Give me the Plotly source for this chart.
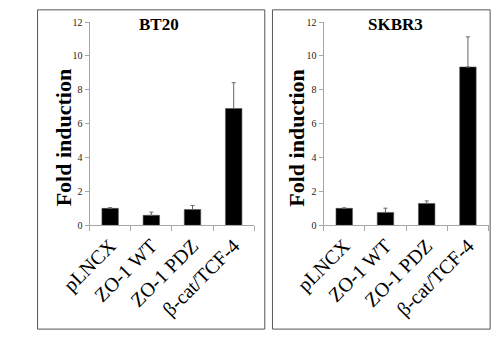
import plotly.graph_objects as go

categories = ["pLNCX", "ZO-1 WT", "ZO-1 PDZ", "β-cat/TCF-4"]
bt20_values = [1.0, 0.59, 0.93, 6.9]
bt20_errors = [0.04, 0.19, 0.24, 1.52]
skbr3_values = [1.0, 0.76, 1.29, 9.35]
skbr3_errors = [0.03, 0.25, 0.15, 1.78]
panel_titles = ["BT20", "SKBR3"]
y_label = "Fold induction"

W, H = 492, 338
SERIF = "Liberation Serif, Times New Roman, serif"

def px_x(v):
    return v / W

def px_y(v):
    return 1 - v / H

fig = go.Figure()
for i, (vals, errs) in enumerate([(bt20_values, bt20_errors), (skbr3_values, skbr3_errors)]):
    suffix = "" if i == 0 else "2"
    fig.add_trace(go.Bar(
        x=categories, y=vals,
        xaxis="x" + suffix, yaxis="y" + suffix,
        marker=dict(color="black", line=dict(color="#555555", width=0.6)),
        error_y=dict(type="data", symmetric=False, array=errs, arrayminus=[0] * len(errs),
                     color="#666666", thickness=1, width=2),
        showlegend=False,
    ))

y_dom = [px_y(227.7), px_y(17.7)]
axis_common = dict(showline=True, linecolor="#a6a6a6", linewidth=1, ticks="outside",
                   tickcolor="#a6a6a6", showgrid=False, zeroline=False)
xcommon = dict(axis_common, tickson="boundaries", ticklen=5, tickangle=-45,
               tickfont=dict(family=SERIF, size=20, color="black"))
ycommon = dict(axis_common, range=[0, 12], dtick=2, ticklen=4,
               tickfont=dict(family=SERIF, size=10, color="#222222"))

fig.update_layout(
    width=W, height=H,
    margin=dict(l=0, r=0, t=0, b=0),
    paper_bgcolor="white", plot_bgcolor="white",
    bargap=0.6,
    xaxis=dict(xcommon, domain=[px_x(62.5), px_x(238.3)], anchor="y"),
    yaxis=dict(ycommon, domain=y_dom, anchor="x"),
    xaxis2=dict(xcommon, domain=[px_x(312.3), px_x(488.3)], anchor="y2"),
    yaxis2=dict(ycommon, domain=y_dom, anchor="x2"),
)

# panel borders
for x0, x1 in [(7, 249.5), (257.7, 490)]:
    fig.add_shape(type="rect", xref="paper", yref="paper",
                  x0=px_x(x0), x1=px_x(x1), y0=px_y(335), y1=px_y(5),
                  line=dict(color="#555555", width=1))

# titles
for title, cx in zip(panel_titles, [137, 389]):
    fig.add_annotation(text="<b>%s</b>" % title, xref="paper", yref="paper",
                       x=px_x(cx), y=px_y(20), xanchor="center", yanchor="middle",
                       showarrow=False, font=dict(family=SERIF, size=17, color="black"))

# y labels
for cx in [35, 283]:
    fig.add_annotation(text="<b>%s</b>" % y_label, xref="paper", yref="paper",
                       x=px_x(cx), y=px_y(137), xanchor="center", yanchor="middle",
                       textangle=-90, showarrow=False,
                       font=dict(family=SERIF, size=22, color="black"))

fig.write_html("out.html")
